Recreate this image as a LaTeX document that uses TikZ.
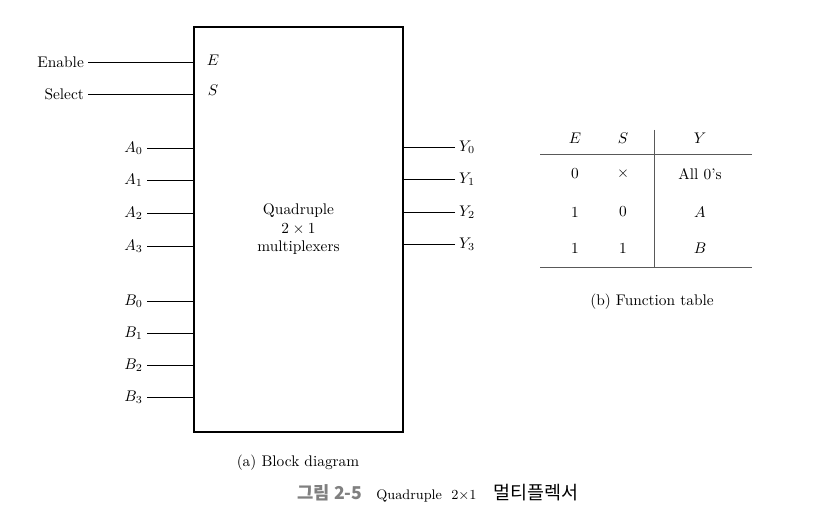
\documentclass[tikz,border=0pt]{standalone}
\usepackage{fontspec}
\newfontfamily\korfont{Noto Sans CJK KR}
\usetikzlibrary{positioning}

\begin{document}
\begin{tikzpicture}[
    x=0.65pt, y=-0.65pt,
    box/.style={rectangle, draw, line width=1pt, minimum width=135.85pt, minimum height=263.25pt, align=center},
    pinlbl/.style={inner sep=2.5pt},
    wire/.style={line width=0.5pt},
    rule/.style={line width=0.6pt, draw=black!65}
]
\useasboundingbox (0,0) rectangle (835,520);

% block
\node[box] (mux) at (298.5,229.5) {Quadruple\\$2\times1$\\multiplexers};
\node (E) at (213,60) {$E$};
\node (S) at (213,90) {$S$};

\node[pinlbl, anchor=east] (en) at (88,62) {Enable};
\node[pinlbl, anchor=east] (sel) at (88,94) {Select};
\draw[wire] (en) -- (en -| mux.west);
\draw[wire] (sel) -- (sel -| mux.west);

\foreach \i/\y in {0/148,1/180,2/213,3/246} {
    \node[pinlbl, anchor=east] (A\i) at (147,\y) {$A_\i$};
    \draw[wire] (A\i) -- (A\i -| mux.west);
}
\foreach \i/\y in {0/301,1/333,2/365,3/397} {
    \node[pinlbl, anchor=east] (B\i) at (147,\y) {$B_\i$};
    \draw[wire] (B\i) -- (B\i -| mux.west);
}
\foreach \i/\y in {0/147,1/179,2/212,3/244} {
    \node[pinlbl, anchor=west] (Y\i) at (455,\y) {$Y_\i$};
    \draw[wire] (Y\i) -- (Y\i -| mux.east);
}

\node (capA) at (298,463) {(a) Block diagram};

% function table
\node (hE) at (575,138) {$E$};
\node (hS) at (623,138) {$S$};
\node (hY) at (700,138) {$Y$};
\node (r1E) at (575,174) {0};
\node (r1S) at (623,174) {$\times$};
\node (r1Y) at (700,174) {All 0's};
\node (r2E) at (575,212) {1};
\node (r2S) at (623,212) {0};
\node (r2Y) at (700,212) {$A$};
\node (r3E) at (575,248) {1};
\node (r3S) at (623,248) {1};
\node (r3Y) at (700,248) {$B$};
\draw[rule] (540,154) -- (752,154);
\draw[rule] (540,267) -- (752,267);
\draw[rule] (654,130) -- (654,267);

\node (capB) at (652,302) {(b) Function table};

\node (fig) at (438,493) {\small{\korfont\fontsize{11.5}{14}\selectfont\bfseries\color{black!50}그림 2-5}\hspace{9pt}Quadruple\hspace{6pt}$2{\times}1$\hspace{11pt}{\korfont\fontsize{12}{14}\selectfont 멀티플렉서}};
\end{tikzpicture}
\end{document}
